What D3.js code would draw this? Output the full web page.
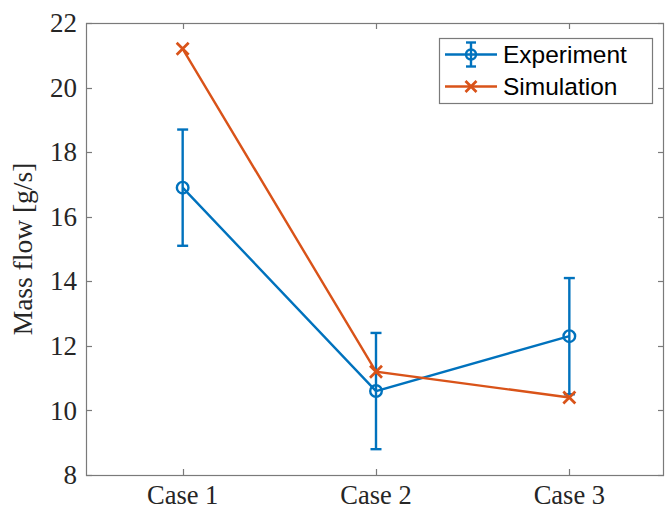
<!DOCTYPE html>
<html>
<head>
<meta charset="utf-8">
<script src="https://cdn.jsdelivr.net/npm/d3@7"></script>
<style>
  html, body { margin: 0; padding: 0; background: #fff; }
  svg { display: block; }
</style>
</head>
<body>
<svg id="chart" width="665" height="510"></svg>
<script>
// Measured mass flow per case
const categories = ["Case 1", "Case 2", "Case 3"];
const experiment = [16.9, 10.6, 12.3];
const experimentError = [1.8, 1.8, 1.8];
const simulation = [21.2, 11.2, 10.4];
const yTicks = [8, 10, 12, 14, 16, 18, 20, 22];

const W = 665, H = 510;
const margin = { left: 86, right: 1, top: 23, bottom: 35 };
const blue = "#0072BD", orange = "#D95319";
const axisColor = "#7a7a7a", textColor = "#262626";
const serif = "'Liberation Serif', 'Times New Roman', serif";
const sans = "'Liberation Sans', Arial, Helvetica, sans-serif";
const lw = 2.4;

const svg = d3.select("#chart");

const x = d3.scaleLinear().domain([0.5, 3.5]).range([margin.left, W - margin.right + 2]);
const y = d3.scaleLinear().domain([8, 22]).range([H - margin.bottom, margin.top]);
const xi = i => x(i + 1);

const x0 = margin.left, x1 = W - margin.right, y0 = H - margin.bottom, y1 = margin.top;

// Axes box
const g = svg.append("g");
g.append("rect")
  .attr("x", x0 + 0.5).attr("y", y1 + 0.5)
  .attr("width", x1 - x0 - 1).attr("height", y0 - y1)
  .attr("fill", "none").attr("stroke", axisColor).attr("stroke-width", 1.2);

// Y ticks (left and right, inward)
const tickLen = 6;
yTicks.forEach(t => {
  const yy = Math.round(y(t)) + 0.5;
  g.append("line").attr("x1", x0).attr("x2", x0 + tickLen).attr("y1", yy).attr("y2", yy)
    .attr("stroke", axisColor).attr("stroke-width", 1.2);
  g.append("line").attr("x1", x1 - tickLen).attr("x2", x1).attr("y1", yy).attr("y2", yy)
    .attr("stroke", axisColor).attr("stroke-width", 1.2);
  g.append("text")
    .attr("x", x0 - 9).attr("y", y(t))
    .attr("dy", "0.34em")
    .attr("text-anchor", "end")
    .attr("font-family", serif).attr("font-size", 27)
    .attr("fill", textColor)
    .text(t);
});

// X ticks (bottom and top, inward)
categories.forEach((c, i) => {
  const xx = Math.round(xi(i)) + 0.5;
  g.append("line").attr("x1", xx).attr("x2", xx).attr("y1", y0).attr("y2", y0 - tickLen)
    .attr("stroke", axisColor).attr("stroke-width", 1.2);
  g.append("line").attr("x1", xx).attr("x2", xx).attr("y1", y1).attr("y2", y1 + tickLen)
    .attr("stroke", axisColor).attr("stroke-width", 1.2);
  g.append("text")
    .attr("x", xi(i)).attr("y", y0 + 29)
    .attr("text-anchor", "middle")
    .attr("font-family", serif).attr("font-size", 26.5)
    .attr("fill", textColor)
    .text(c);
});

// Y axis label
svg.append("text")
  .attr("transform", `translate(32, ${(y0 + y1) / 2}) rotate(-90)`)
  .attr("text-anchor", "middle")
  .attr("font-family", serif).attr("font-size", 27.5)
  .attr("fill", textColor)
  .text("Mass flow [g/s]");

const line = d3.line().x((d, i) => xi(i)).y(d => y(d));

// Experiment: line, error bars, circles
const exp = svg.append("g");
exp.append("path").datum(experiment)
  .attr("d", line).attr("fill", "none").attr("stroke", blue).attr("stroke-width", lw);
experiment.forEach((v, i) => {
  const cx = xi(i), lo = y(v - experimentError[i]), hi = y(v + experimentError[i]);
  exp.append("line").attr("x1", cx).attr("x2", cx).attr("y1", lo).attr("y2", hi)
    .attr("stroke", blue).attr("stroke-width", lw);
  [lo, hi].forEach(yy => exp.append("line")
    .attr("x1", cx - 5.5).attr("x2", cx + 5.5).attr("y1", yy).attr("y2", yy)
    .attr("stroke", blue).attr("stroke-width", lw));
  exp.append("circle").attr("cx", cx).attr("cy", y(v)).attr("r", 5.8)
    .attr("fill", "none").attr("stroke", blue).attr("stroke-width", lw);
});

// Simulation: line and crosses
const crossPath = (cx, cy, s) =>
  `M${cx - s},${cy - s}L${cx + s},${cy + s}M${cx - s},${cy + s}L${cx + s},${cy - s}`;
const sim = svg.append("g");
sim.append("path").datum(simulation)
  .attr("d", line).attr("fill", "none").attr("stroke", orange).attr("stroke-width", lw);
simulation.forEach((v, i) => {
  sim.append("path").attr("d", crossPath(xi(i), y(v), 6))
    .attr("fill", "none").attr("stroke", orange).attr("stroke-width", 2.7);
});

// Legend
const lg = svg.append("g");
lg.append("rect").attr("x", 439.5).attr("y", 38.5).attr("width", 213).attr("height", 65)
  .attr("fill", "#fff").attr("stroke", axisColor).attr("stroke-width", 1.2);
const legendItems = [
  { label: "Experiment", color: blue, type: "exp", cy: 54.5 },
  { label: "Simulation", color: orange, type: "sim", cy: 86.5 }
];
legendItems.forEach(it => {
  lg.append("line").attr("x1", 445).attr("x2", 497).attr("y1", it.cy).attr("y2", it.cy)
    .attr("stroke", it.color).attr("stroke-width", lw);
  const mx = 471;
  if (it.type === "exp") {
    lg.append("line").attr("x1", mx).attr("x2", mx).attr("y1", it.cy - 12).attr("y2", it.cy + 12)
      .attr("stroke", it.color).attr("stroke-width", lw);
    [it.cy - 12, it.cy + 12].forEach(yy => lg.append("line")
      .attr("x1", mx - 5).attr("x2", mx + 5).attr("y1", yy).attr("y2", yy)
      .attr("stroke", it.color).attr("stroke-width", lw));
    lg.append("circle").attr("cx", mx).attr("cy", it.cy).attr("r", 5)
      .attr("fill", "none").attr("stroke", it.color).attr("stroke-width", lw);
  } else {
    lg.append("path").attr("d", crossPath(mx, it.cy, 5.5))
      .attr("fill", "none").attr("stroke", it.color).attr("stroke-width", 2.7);
  }
  lg.append("text").attr("x", 503).attr("y", it.cy).attr("dy", "0.36em")
    .attr("font-family", sans).attr("font-size", 24.5)
    .attr("fill", "#000")
    .text(it.label);
});
</script>
</body>
</html>
